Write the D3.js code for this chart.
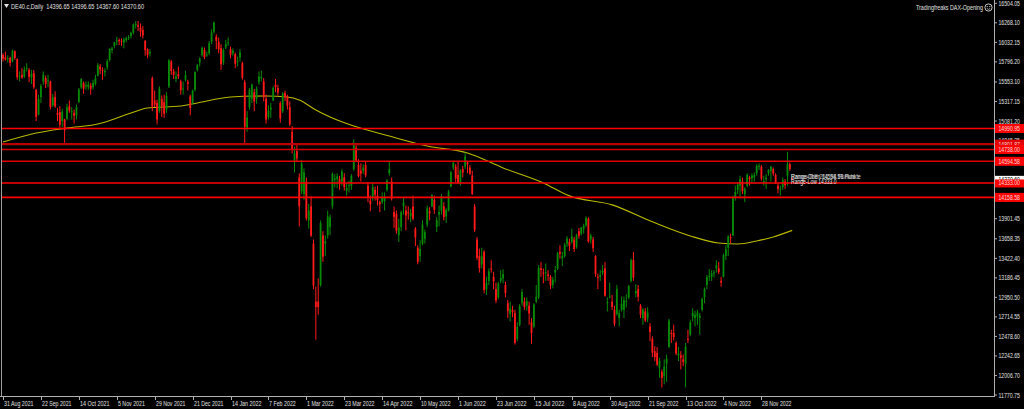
<!DOCTYPE html>
<html><head><meta charset="utf-8">
<script src="https://cdn.jsdelivr.net/npm/d3@7"></script>
<style>html,body{margin:0;padding:0;background:#000;overflow:hidden}svg{display:block}</style>
</head><body><svg id="c" width="1024" height="409"></svg>
<script>
// ---------- DATA ----------
const dates = [
"2021-08-31",
"2021-09-01","2021-09-02","2021-09-03","2021-09-06","2021-09-07","2021-09-08","2021-09-09","2021-09-10","2021-09-13","2021-09-14","2021-09-15","2021-09-16","2021-09-17","2021-09-20","2021-09-21","2021-09-22","2021-09-23","2021-09-24","2021-09-27","2021-09-28","2021-09-29","2021-09-30",
"2021-10-01","2021-10-04","2021-10-05","2021-10-06","2021-10-07","2021-10-08","2021-10-11","2021-10-12","2021-10-13","2021-10-14","2021-10-15","2021-10-18","2021-10-19","2021-10-20","2021-10-21","2021-10-22","2021-10-25","2021-10-26","2021-10-27","2021-10-28","2021-10-29",
"2021-11-01","2021-11-02","2021-11-03","2021-11-04","2021-11-05","2021-11-08","2021-11-09","2021-11-10","2021-11-11","2021-11-12","2021-11-15","2021-11-16","2021-11-17","2021-11-18","2021-11-19","2021-11-22","2021-11-23","2021-11-24","2021-11-25","2021-11-26","2021-11-29","2021-11-30",
"2021-12-01","2021-12-02","2021-12-03","2021-12-06","2021-12-07","2021-12-08","2021-12-09","2021-12-10","2021-12-13","2021-12-14","2021-12-15","2021-12-16","2021-12-17","2021-12-20","2021-12-21","2021-12-22","2021-12-23","2021-12-27","2021-12-28","2021-12-29","2021-12-30",
"2022-01-03","2022-01-04","2022-01-05","2022-01-06","2022-01-07","2022-01-10","2022-01-11","2022-01-12","2022-01-13","2022-01-14","2022-01-17","2022-01-18","2022-01-19","2022-01-20","2022-01-21","2022-01-24","2022-01-25","2022-01-26","2022-01-27","2022-01-28","2022-01-31",
"2022-02-01","2022-02-02","2022-02-03","2022-02-04","2022-02-07","2022-02-08","2022-02-09","2022-02-10","2022-02-11","2022-02-14","2022-02-15","2022-02-16","2022-02-17","2022-02-18","2022-02-21","2022-02-22","2022-02-23","2022-02-24","2022-02-25","2022-02-28",
"2022-03-01","2022-03-02","2022-03-03","2022-03-04","2022-03-07","2022-03-08","2022-03-09","2022-03-10","2022-03-11","2022-03-14","2022-03-15","2022-03-16","2022-03-17","2022-03-18","2022-03-21","2022-03-22","2022-03-23","2022-03-24","2022-03-25","2022-03-28","2022-03-29","2022-03-30","2022-03-31",
"2022-04-01","2022-04-04","2022-04-05","2022-04-06","2022-04-07","2022-04-08","2022-04-11","2022-04-12","2022-04-13","2022-04-14","2022-04-19","2022-04-20","2022-04-21","2022-04-22","2022-04-25","2022-04-26","2022-04-27","2022-04-28","2022-04-29",
"2022-05-02","2022-05-03","2022-05-04","2022-05-05","2022-05-06","2022-05-09","2022-05-10","2022-05-11","2022-05-12","2022-05-13","2022-05-16","2022-05-17","2022-05-18","2022-05-19","2022-05-20","2022-05-23","2022-05-24","2022-05-25","2022-05-26","2022-05-27","2022-05-30","2022-05-31",
"2022-06-01","2022-06-02","2022-06-03","2022-06-06","2022-06-07","2022-06-08","2022-06-09","2022-06-10","2022-06-13","2022-06-14","2022-06-15","2022-06-16","2022-06-17","2022-06-20","2022-06-21","2022-06-22","2022-06-23","2022-06-24","2022-06-27","2022-06-28","2022-06-29","2022-06-30",
"2022-07-01","2022-07-04","2022-07-05","2022-07-06","2022-07-07","2022-07-08","2022-07-11","2022-07-12","2022-07-13","2022-07-14","2022-07-15","2022-07-18","2022-07-19","2022-07-20","2022-07-21","2022-07-22","2022-07-25","2022-07-26","2022-07-27","2022-07-28","2022-07-29",
"2022-08-01","2022-08-02","2022-08-03","2022-08-04","2022-08-05","2022-08-08","2022-08-09","2022-08-10","2022-08-11","2022-08-12","2022-08-15","2022-08-16","2022-08-17","2022-08-18","2022-08-19","2022-08-22","2022-08-23","2022-08-24","2022-08-25","2022-08-26","2022-08-29","2022-08-30","2022-08-31",
"2022-09-01","2022-09-02","2022-09-05","2022-09-06","2022-09-07","2022-09-08","2022-09-09","2022-09-12","2022-09-13","2022-09-14","2022-09-15","2022-09-16","2022-09-19","2022-09-20","2022-09-21","2022-09-22","2022-09-23","2022-09-26","2022-09-27","2022-09-28","2022-09-29","2022-09-30",
"2022-10-03","2022-10-04","2022-10-05","2022-10-06","2022-10-07","2022-10-10","2022-10-11","2022-10-12","2022-10-13","2022-10-14","2022-10-17","2022-10-18","2022-10-19","2022-10-20","2022-10-21","2022-10-24","2022-10-25","2022-10-26","2022-10-27","2022-10-28","2022-10-31",
"2022-11-01","2022-11-02","2022-11-03","2022-11-04","2022-11-07","2022-11-08","2022-11-09","2022-11-10","2022-11-11","2022-11-14","2022-11-15","2022-11-16","2022-11-17","2022-11-18","2022-11-21","2022-11-22","2022-11-23","2022-11-24","2022-11-25","2022-11-28","2022-11-29","2022-11-30",
"2022-12-01","2022-12-02","2022-12-05","2022-12-06","2022-12-07","2022-12-08","2022-12-09","2022-12-12","2022-12-13","2022-12-14","2022-12-15"
];

const opens = [
15880,
15850,15830,15845,15800,15925,15830,15615,15640,15620,15710,15700,15610,15660,15460,15160,15370,15560,15600,15560,15560,15270,15370,
15180,15190,15080,15100,15110,15260,15190,15180,15150,15310,15490,15540,15500,15490,15510,15490,15530,15630,15740,15700,15670,
15730,15820,15940,15990,16040,16060,16050,16030,16060,16090,16110,16150,16250,16240,16210,16180,16050,15950,15900,15600,15330,15300,
15200,15350,15310,15220,15500,15800,15680,15590,15650,15560,15470,15580,15550,15380,15300,15460,15700,15790,15880,15940,15880,
15900,16040,16160,16100,16040,15960,15790,15970,16020,15950,15900,15890,15800,15850,15780,15550,15000,15250,15350,15430,15350,
15550,15600,15560,15350,15130,15220,15330,15520,15480,15300,15200,15420,15380,15250,14950,14600,14720,14400,14230,14200,
14350,13880,14050,13600,12900,12900,13100,13700,13600,13700,13800,14050,14370,14380,14380,14350,14400,14240,14300,14300,14500,14760,14550,
14480,14480,14550,14300,14120,14150,14250,14180,14100,14100,14110,14250,14450,14350,13980,13960,13700,13800,14050,
14000,13980,13930,14050,13780,13550,13450,13600,13660,13830,13990,14050,14130,13800,13950,14000,14050,13930,14000,14290,14520,14530,
14430,14330,14500,14530,14580,14520,14420,14050,13650,13450,13350,13500,13050,13150,13300,13200,13050,12950,13150,13180,13100,12880,
12750,12800,12760,12450,12620,12880,12900,12850,12850,12650,12600,12900,12950,13300,13250,13250,13230,13200,13100,13250,13300,
13500,13420,13450,13600,13620,13620,13650,13560,13750,13720,13780,13820,13900,13650,13650,13450,13200,13200,13250,13300,12880,12950,12900,
12800,12750,12700,12800,12800,12900,12950,13150,13400,13000,13050,12850,12700,12780,12700,12600,12450,12300,12280,12100,12050,12000,
12150,12350,12520,12520,12400,12250,12250,12200,12150,12450,12500,12720,12700,12720,12700,12800,12950,13100,13200,13200,13250,
13300,13300,13150,13200,13450,13550,13680,13700,14150,14250,14300,14350,14200,14300,14400,14390,14400,14450,14530,14530,14350,14380,
14450,14480,14500,14430,14300,14260,14280,14350,14420,14560,14396.65
];
const highs = [
15900,
15920,15875,15860,15945,15935,15840,15680,15720,15740,15780,15720,15700,15700,15470,15400,15530,15680,15630,15640,15570,15410,15440,
15240,15260,15230,15110,15290,15330,15250,15220,15280,15480,15600,15560,15560,15560,15540,15580,15640,15780,15770,15730,15720,
15830,15960,15980,16040,16100,16080,16080,16090,16100,16120,16160,16260,16290,16290,16260,16230,16060,15960,15950,15620,15450,15340,
15500,15390,15400,15430,15830,15820,15710,15680,15740,15580,15560,15690,15580,15400,15460,15680,15770,15850,15980,15970,15920,
16050,16190,16285,16130,16090,16010,15960,16060,16090,15980,15960,15910,15860,15950,15800,15580,15200,15480,15530,15470,15500,
15680,15690,15600,15400,15270,15300,15500,15590,15520,15320,15430,15450,15400,15320,15020,14770,14800,14450,14610,14510,
14400,14080,14170,13650,13080,13180,13880,13750,13700,14000,13950,14460,14440,14450,14420,14500,14450,14330,14360,14440,14860,14800,14620,
14570,14560,14600,14340,14180,14330,14290,14300,14120,14220,14220,14380,14590,14400,14050,14000,13900,14000,14150,
14060,14050,14020,14180,13800,13580,13640,13880,13770,14060,14040,14200,14180,13920,14060,14200,14100,14030,14250,14480,14600,14560,
14600,14500,14540,14700,14600,14550,14480,14080,13680,13540,13550,13520,13200,13300,13400,13260,13130,13140,13280,13290,13140,12920,
12900,12850,12800,12650,12870,13050,12950,12950,12900,12700,12880,13100,13340,13380,13300,13360,13280,13220,13200,13330,13500,
13580,13500,13610,13690,13660,13780,13680,13720,13790,13800,13840,13930,13920,13720,13680,13460,13240,13280,13340,13380,12950,13130,12980,
12850,13100,12800,12960,12960,12990,13100,13420,13500,13110,13100,12870,12820,12820,12830,12640,12480,12360,12350,12220,12080,12200,
12260,12690,12560,12620,12420,12350,12300,12260,12400,12560,12680,12820,12790,12800,12760,12950,13070,13220,13290,13280,13280,
13400,13380,13200,13480,13580,13700,13720,14180,14300,14340,14420,14400,14280,14450,14420,14450,14460,14560,14570,14550,14420,14440,
14500,14540,14520,14450,14330,14300,14400,14380,14710,14580,14396.65
];
const lows = [
15800,
15810,15790,15740,15790,15820,15580,15560,15590,15600,15680,15550,15530,15470,15080,15150,15300,15520,15480,15490,15220,15250,15240,
15080,15000,15010,14818,15090,15180,15100,15050,15100,15300,15470,15410,15460,15460,15400,15460,15510,15620,15650,15580,15620,
15700,15800,15900,15960,16000,16000,15990,15960,16030,16060,16080,16130,16200,16170,16100,16080,15870,15840,15860,15200,15250,15040,
15180,15130,15120,15180,15480,15640,15590,15550,15590,15400,15400,15560,15450,15150,15280,15440,15680,15740,15860,15830,15860,
15880,16010,16140,15950,15900,15700,15760,15950,15990,15840,15870,15720,15740,15800,15580,14814,14950,15220,15300,15200,15290,
15520,15560,15320,15050,15100,15120,15320,15430,15390,15060,15180,15320,15220,15020,14690,14460,14600,13807,14200,14130,
13880,13780,13680,13050,12439,12740,13080,13380,13450,13660,13700,14020,14280,14270,14250,14300,14240,14180,14220,14250,14480,14600,14400,
14350,14440,14400,14100,13990,14120,14120,14060,13980,14080,14000,14230,14420,14120,13790,13720,13620,13750,13950,
13760,13890,13860,13880,13570,13350,13380,13580,13600,13800,13880,14040,13960,13740,13810,13950,13880,13850,13990,14280,14490,14340,
14320,14300,14400,14500,14450,14430,14190,13740,13400,13250,13300,13000,12980,13100,13250,13050,12880,12930,13120,13120,12950,12700,
12660,12710,12380,12420,12600,12850,12800,12790,12620,12390,12580,12880,12930,13200,13120,13150,13150,13050,13060,13130,13280,
13420,13330,13430,13560,13510,13600,13500,13540,13660,13700,13720,13800,13610,13600,13500,13200,13050,13150,13220,12960,12780,12940,12800,
12600,12730,12600,12780,12700,12830,12930,13130,13150,12950,12900,12700,12620,12650,12650,12420,12230,12180,12120,11980,11862,11900,
11930,12340,12400,12430,12250,12180,12080,12120,11864,12400,12480,12660,12600,12620,12500,12780,12880,13050,13150,13150,13190,
13250,13230,13080,13190,13400,13450,13600,13690,14120,14200,14150,14200,14100,14280,14300,14340,14350,14420,14490,14360,14300,14260,
14420,14350,14420,14320,14210,14180,14250,14260,14300,14480,14367.60
];
const closes = [
15835,
15824,15840,15781,15932,15843,15610,15623,15609,15701,15722,15616,15651,15490,15132,15349,15506,15644,15531,15573,15249,15365,15260,
15156,15036,15195,14973,15250,15206,15199,15146,15250,15463,15587,15474,15516,15523,15472,15543,15600,15757,15705,15696,15688,
15806,15954,15959,16030,16054,16047,16040,16067,16083,16094,16148,16248,16251,16221,16160,16116,15937,15878,15917,15257,15280,15100,
15472,15263,15170,15386,15813,15687,15639,15623,15621,15454,15476,15636,15532,15239,15451,15676,15756,15838,15964,15853,15885,
16020,16152,16271,16052,15948,15768,15942,16010,16031,15883,15933,15772,15809,15912,15603,15011,15123,15459,15524,15318,15471,
15619,15613,15368,15099,15206,15242,15482,15490,15425,15113,15412,15370,15268,15042,14731,14693,14631,14052,14567,14461,
13905,14000,13698,13094,12835,12832,13848,13443,13628,13929,13917,14441,14388,14413,14326,14474,14283,14273,14306,14418,14821,14606,14415,
14446,14519,14425,14151,14078,14284,14193,14125,14076,14164,14153,14362,14502,14142,13924,13756,13794,13980,14098,
13940,13970,13971,13902,13674,13380,13535,13829,13739,14027,13964,14185,14007,13882,13982,14175,13919,14007,14231,14462,14575,14388,
14340,14485,14460,14653,14556,14445,14198,13762,13427,13304,13447,13038,13126,13265,13292,13145,12912,13118,13186,13231,13003,12784,
12813,12773,12401,12595,12843,13015,12832,12905,12756,12519,12865,12959,13308,13281,13246,13254,13210,13097,13166,13282,13484,
13479,13449,13587,13662,13574,13688,13535,13700,13694,13795,13816,13910,13626,13697,13544,13230,13194,13221,13271,12971,12893,12961,12835,
12631,13050,12761,12872,12916,12904,13088,13402,13189,13028,12957,12741,12803,12671,12767,12531,12284,12227,12139,12183,11976,12114,
12209,12670,12517,12471,12273,12272,12220,12172,12355,12438,12649,12765,12741,12767,12730,12931,13053,13196,13211,13243,13253,
13339,13257,13130,13460,13533,13688,13666,14146,14224,14313,14379,14234,14266,14431,14379,14422,14428,14539,14541,14383,14355,14397,
14490,14529,14447,14343,14261,14264,14370,14306,14560,14500,14370.60
];

// 200-day moving average at sample dates
const maDates = ["2021-08-31","2021-09-20","2021-10-07","2021-10-26","2021-11-15","2021-11-24","2021-12-14","2021-12-23","2022-01-14","2022-02-04","2022-02-17","2022-02-24","2022-03-07","2022-03-15","2022-03-29","2022-04-21","2022-05-13","2022-06-07","2022-06-28","2022-07-21","2022-08-05","2022-08-31","2022-09-23","2022-10-17","2022-11-02","2022-11-14","2022-11-24","2022-12-05","2022-12-15"];
const maValues = [14828,14937,14997,15046,15178,15239,15263,15300,15372,15384,15372,15336,15215,15130,15021,14900,14780,14695,14515,14334,14177,14068,13863,13693,13608,13596,13632,13681,13760];

// horizontal price levels
const levels = [14990.95, 14801.87, 14738.00, 14594.58, 14333.00, 14158.58];
const levelLabels = ["14990.95","14801.87","14738.00","14594.58","14333.00","14158.58"];
const lastPrice = 14370.60;
const lastPriceLabel = "14370.60";

// axis ticks
const yTicks = [16504.05,16268.10,16032.15,15796.20,15553.10,15317.15,15081.20,14845.25,14609.30,14373.35,14137.40,13901.45,13658.35,13422.40,13186.45,12950.50,12714.55,12478.60,12242.65,12006.70,11770.75];
const yTickLabels = ["16504.05","16268.10","16032.15","15796.20","15553.10","15317.15","15081.20","14845.25","14609.30","14373.35","14137.40","13901.45","13658.35","13422.40","13186.45","12950.50","12714.55","12478.60","12242.65","12006.70","11770.75"];
const xTickDates = ["2021-08-31","2021-09-22","2021-10-14","2021-11-05","2021-11-29","2021-12-21","2022-01-14","2022-02-07","2022-03-01","2022-03-23","2022-04-14","2022-05-10","2022-06-01","2022-06-23","2022-07-15","2022-08-08","2022-08-30","2022-09-21","2022-10-13","2022-11-04","2022-11-28"];
const xTickLabels = ["31 Aug 2021","22 Sep 2021","14 Oct 2021","5 Nov 2021","29 Nov 2021","21 Dec 2021","14 Jan 2022","7 Feb 2022","1 Mar 2022","23 Mar 2022","14 Apr 2022","10 May 2022","1 Jun 2022","23 Jun 2022","15 Jul 2022","8 Aug 2022","30 Aug 2022","21 Sep 2022","13 Oct 2022","4 Nov 2022","28 Nov 2022"];

const titleText = "DE40.c,Daily  14396.65 14396.65 14367.60 14370.60";
const indicatorText = "Tradingfreaks DAX-Opening";
const rangeTexts = ["Range-Oben 14594.58 Punkte", "Range-Diff 261.58 Punkte", "Range-Low 14333.0"];

// ---------- DRAW ----------
const svg = d3.select("#c");
const W = 1024, H = 409;
const plotR = 994, plotB = 396;
const FONT = "'Liberation Sans', Arial, sans-serif";
const CH = 2.68; // px per char, MT4 tiny font
const TXT = "#e0e0e0";

svg.append("rect").attr("width", W).attr("height", H).attr("fill", "#000");

const x = d3.scalePoint().domain(dates).range([3, 3 + (dates.length - 1) * 2.37]);
const y = d3.scaleLinear().domain([11770.75, 16504.05]).range([395, 3.3]);

const fit = (sel) => sel.attr("textLength", d => String(d).length * CH).attr("lengthAdjust", "spacingAndGlyphs");

// MA line
const maLine = d3.line().x(d => x(d[0])).y(d => y(d[1])).curve(d3.curveMonotoneX);
svg.append("path").datum(maDates.map((d, i) => [d, maValues[i]]))
  .attr("d", maLine).attr("fill", "none").attr("stroke", "#b8b800").attr("stroke-width", 1.1);

// candles
const idx = d3.range(dates.length);
const g = svg.append("g");
const colorOf = i => closes[i] >= opens[i] ? "#078a07" : "#ff1a1a";
g.selectAll("line.w").data(idx).join("line")
  .attr("x1", i => x(dates[i])).attr("x2", i => x(dates[i]))
  .attr("y1", i => y(highs[i])).attr("y2", i => y(lows[i]))
  .attr("stroke", colorOf).attr("stroke-width", 1);
g.selectAll("rect.b").data(idx).join("rect")
  .attr("x", i => x(dates[i]) - 0.9).attr("width", 1.8)
  .attr("y", i => Math.min(y(opens[i]), y(closes[i])))
  .attr("height", i => Math.max(1, Math.abs(y(opens[i]) - y(closes[i]))))
  .attr("fill", colorOf);

// horizontal levels
const levelColors = ["#ff0000", "#b80000", "#d00000", "#e00000", "#ff0000", "#ff0000"];
const levelWidths = [1.6, 2.2, 1.4, 1.4, 1.6, 1.6];
svg.selectAll("line.lv").data(levels).join("line")
  .attr("x1", 2).attr("x2", plotR).attr("y1", d => y(d)).attr("y2", d => y(d))
  .attr("stroke", (d, i) => levelColors[i]).attr("stroke-width", (d, i) => levelWidths[i]);

// range texts (overlapping as in the reference)
rangeTexts.forEach((t, i) => {
  svg.append("text").datum(t).attr("x", 791).attr("y", [179, 179, 183.5][i])
    .attr("font-family", FONT).attr("font-size", 7).attr("fill", i === 1 ? "#bbbbbb" : "#e8e8e8")
    .text(t).call(fit);
});

// frame
svg.append("line").attr("x1", 1.5).attr("x2", 1.5).attr("y1", 0).attr("y2", plotB).attr("stroke", "#a0a0a0");
svg.append("line").attr("x1", plotR + 0.5).attr("x2", plotR + 0.5).attr("y1", 0).attr("y2", plotB + 1).attr("stroke", "#b0b0b0");
svg.append("line").attr("x1", 0).attr("x2", plotR + 1).attr("y1", plotB + 0.5).attr("y2", plotB + 0.5).attr("stroke", "#b0b0b0");

// y axis
const ya = svg.append("g");
yTicks.forEach((v, i) => {
  ya.append("line").attr("x1", plotR).attr("x2", plotR + 3).attr("y1", y(v)).attr("y2", y(v)).attr("stroke", "#b0b0b0");
  ya.append("text").datum(yTickLabels[i]).attr("x", 998.5).attr("y", y(v) + 2.5)
    .attr("font-family", FONT).attr("font-size", 7).attr("fill", TXT).text(yTickLabels[i]).call(fit);
});

// x axis
const xa = svg.append("g");
xTickDates.forEach((d, i) => {
  const px = Math.round(x(d)) + 0.5;
  xa.append("line").attr("x1", px).attr("x2", px).attr("y1", plotB).attr("y2", plotB + 4).attr("stroke", "#b0b0b0");
  xa.append("text").datum(xTickLabels[i]).attr("x", px + 0.5).attr("y", 406)
    .attr("font-family", FONT).attr("font-size", 7).attr("fill", TXT).text(xTickLabels[i]).call(fit);
});

// level tags on the price axis
levels.forEach((v, i) => {
  if (i === 4) return;
  const yy = y(v);
  svg.append("rect").attr("x", 995).attr("y", yy - 4.5).attr("width", 29).attr("height", 9).attr("fill", levelColors[i] === "#b80000" ? "#e00000" : "#ff0000");
  svg.append("text").datum(levelLabels[i]).attr("x", 998.5).attr("y", yy + 2.5)
    .attr("font-family", FONT).attr("font-size", 7).attr("fill", "#ffd8d8").text(levelLabels[i]).call(fit);
});
{
  const yy = y(lastPrice);
  svg.append("rect").attr("x", 995).attr("y", yy - 4).attr("width", 29).attr("height", 7.5).attr("fill", "#ffffff");
  svg.append("text").datum(lastPriceLabel).attr("x", 998.5).attr("y", yy + 2.3)
    .attr("font-family", FONT).attr("font-size", 7).attr("fill", "#000").text(lastPriceLabel).call(fit);
  const y2 = y(levels[4]);
  svg.append("rect").attr("x", 995).attr("y", y2 - 3.5).attr("width", 29).attr("height", 8).attr("fill", "#ff0000");
  svg.append("text").datum(levelLabels[4]).attr("x", 998.5).attr("y", y2 + 2.5)
    .attr("font-family", FONT).attr("font-size", 7).attr("fill", "#ffd8d8").text(levelLabels[4]).call(fit);
}

// title
svg.append("path").attr("d", "M4,4 L9,4 L6.5,8 Z").attr("fill", "#e0e0e0");
svg.append("text").datum(titleText).attr("x", 11).attr("y", 9)
  .attr("font-family", FONT).attr("font-size", 7).attr("fill", TXT).attr("xml:space", "preserve")
  .text(titleText).attr("textLength", 133).attr("lengthAdjust", "spacingAndGlyphs");

// indicator name + smiley
svg.append("text").datum(indicatorText).attr("x", 983).attr("y", 10).attr("text-anchor", "end")
  .attr("font-family", FONT).attr("font-size", 7).attr("fill", TXT).text(indicatorText).call(fit);
svg.append("circle").attr("cx", 988.5).attr("cy", 7.5).attr("r", 3.6).attr("fill", "none").attr("stroke", "#e0e0e0").attr("stroke-width", 0.9);
svg.append("circle").attr("cx", 987.2).attr("cy", 6.6).attr("r", 0.55).attr("fill", "#e0e0e0");
svg.append("circle").attr("cx", 989.8).attr("cy", 6.6).attr("r", 0.55).attr("fill", "#e0e0e0");
svg.append("path").attr("d", "M986.8,8.4 Q988.5,10.3 990.2,8.4").attr("fill", "none").attr("stroke", "#e0e0e0").attr("stroke-width", 0.7);
</script>
</body></html>
